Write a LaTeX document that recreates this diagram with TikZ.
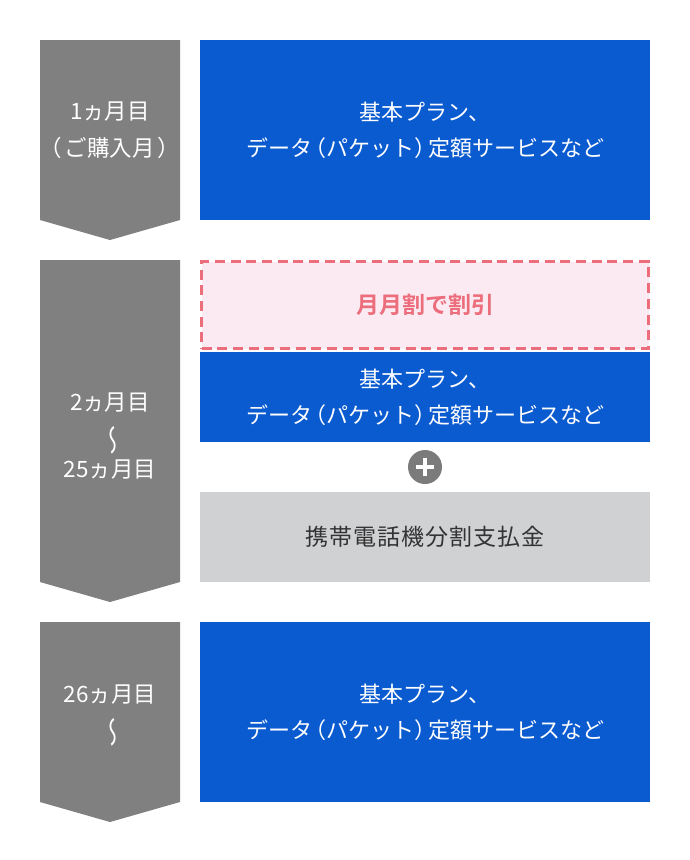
\documentclass[tikz,border=0pt]{standalone}
\usepackage{fontspec}
\setmainfont{Noto Sans CJK JP}
\newfontfamily\jpbold{Noto Sans CJK JP Bold}
\newfontfamily\jpwide[LetterSpace=4]{Noto Sans CJK JP}
\definecolor{arrowgray}{HTML}{808080}
\definecolor{planblue}{HTML}{0B5BD0}
\definecolor{pinkline}{HTML}{EC6D7B}
\definecolor{pinkfill}{HTML}{FCEAF2}
\definecolor{boxgray}{HTML}{D0D1D3}
\definecolor{plusgray}{HTML}{7B7B7B}
\definecolor{darktext}{HTML}{333333}
\tikzset{
  monthshape/.style={fill=arrowgray, draw=none},
  monthtext/.style={text=white, font=\fontsize{22.5}{27}\selectfont, inner sep=0pt},
  planbox/.style={fill=planblue, draw=none, minimum width=450pt, inner sep=0pt},
  plantext/.style={text=white, font=\fontsize{22}{26}\selectfont, inner sep=0pt},
  discountbox/.style={fill=pinkfill, draw=pinkline, line width=3pt, dash pattern=on 10pt off 5.7pt,
    minimum width=447pt, minimum height=87pt, inner sep=0pt,
    text=pinkline, font=\jpbold\fontsize{23}{27}\selectfont},
  installbox/.style={fill=boxgray, draw=none, minimum width=450pt, minimum height=90pt, inner sep=0pt,
    text=darktext, font=\jpwide\fontsize{23}{27}\selectfont},
  plusicon/.style={circle, fill=plusgray, minimum size=34pt, inner sep=0pt},
}
\newcommand{\wavemark}{\scalebox{-1}[1]{\rotatebox{90}{\scalebox{1.35}[1]{〜}}}}
\newcommand{\plantwo}{データ\hspace{-8pt}（パケット）\hspace{-8pt}定額サービスなど}
\begin{document}
\begin{tikzpicture}[x=1pt, y=-1pt]
\useasboundingbox (0,0) rectangle (690,860);
% month arrows
\fill[monthshape] (40,40) -- (180,40) -- (180,220) -- (110,240) -- (40,220) -- cycle;
\fill[monthshape] (40,260) -- (180,260) -- (180,582) -- (110,602) -- (40,582) -- cycle;
\fill[monthshape] (40,622) -- (180,622) -- (180,802) -- (110,822) -- (40,802) -- cycle;
% month texts
\node[monthtext] (m1a) at (110,112) {1ヵ月目};
\node[monthtext] (m1b) at (110,148) {（\hspace{3pt}ご購入月\hspace{3pt}）};
\node[monthtext] (m2a) at (110,403) {2ヵ月目};
\node[monthtext] (m2b) at (110,440) {\wavemark};
\node[monthtext] (m2c) at (110,470) {25ヵ月目};
\node[monthtext] (m3a) at (110,695) {26ヵ月目};
\node[monthtext] (m3b) at (110,732) {\wavemark};
% right boxes
\node[planbox, minimum height=180pt] (b1) at (425,130) {};
\node[plantext] (b1a) at (425,112.5) {基本プラン、};
\node[plantext] (b1b) at (425,148) {\plantwo};
\node[discountbox] (d2) at (425,305) {月月割で割引};
\node[planbox, minimum height=90pt] (b2) at (425,397) {};
\node[plantext] (b2a) at (425,379.5) {基本プラン、};
\node[plantext] (b2b) at (425,415) {\plantwo};
\node[plusicon] (plus) at (425,467) {};
\draw[white, line width=4pt] ([xshift=-9pt]plus.center) -- ([xshift=9pt]plus.center);
\draw[white, line width=4pt] ([yshift=-9pt]plus.center) -- ([yshift=9pt]plus.center);
\node[installbox] (g2) at (425,537) {携帯電話機分割支払金};
\node[planbox, minimum height=180pt] (b3) at (425,712) {};
\node[plantext] (b3a) at (425,694.5) {基本プラン、};
\node[plantext] (b3b) at (425,730) {\plantwo};
\end{tikzpicture}
\end{document}
